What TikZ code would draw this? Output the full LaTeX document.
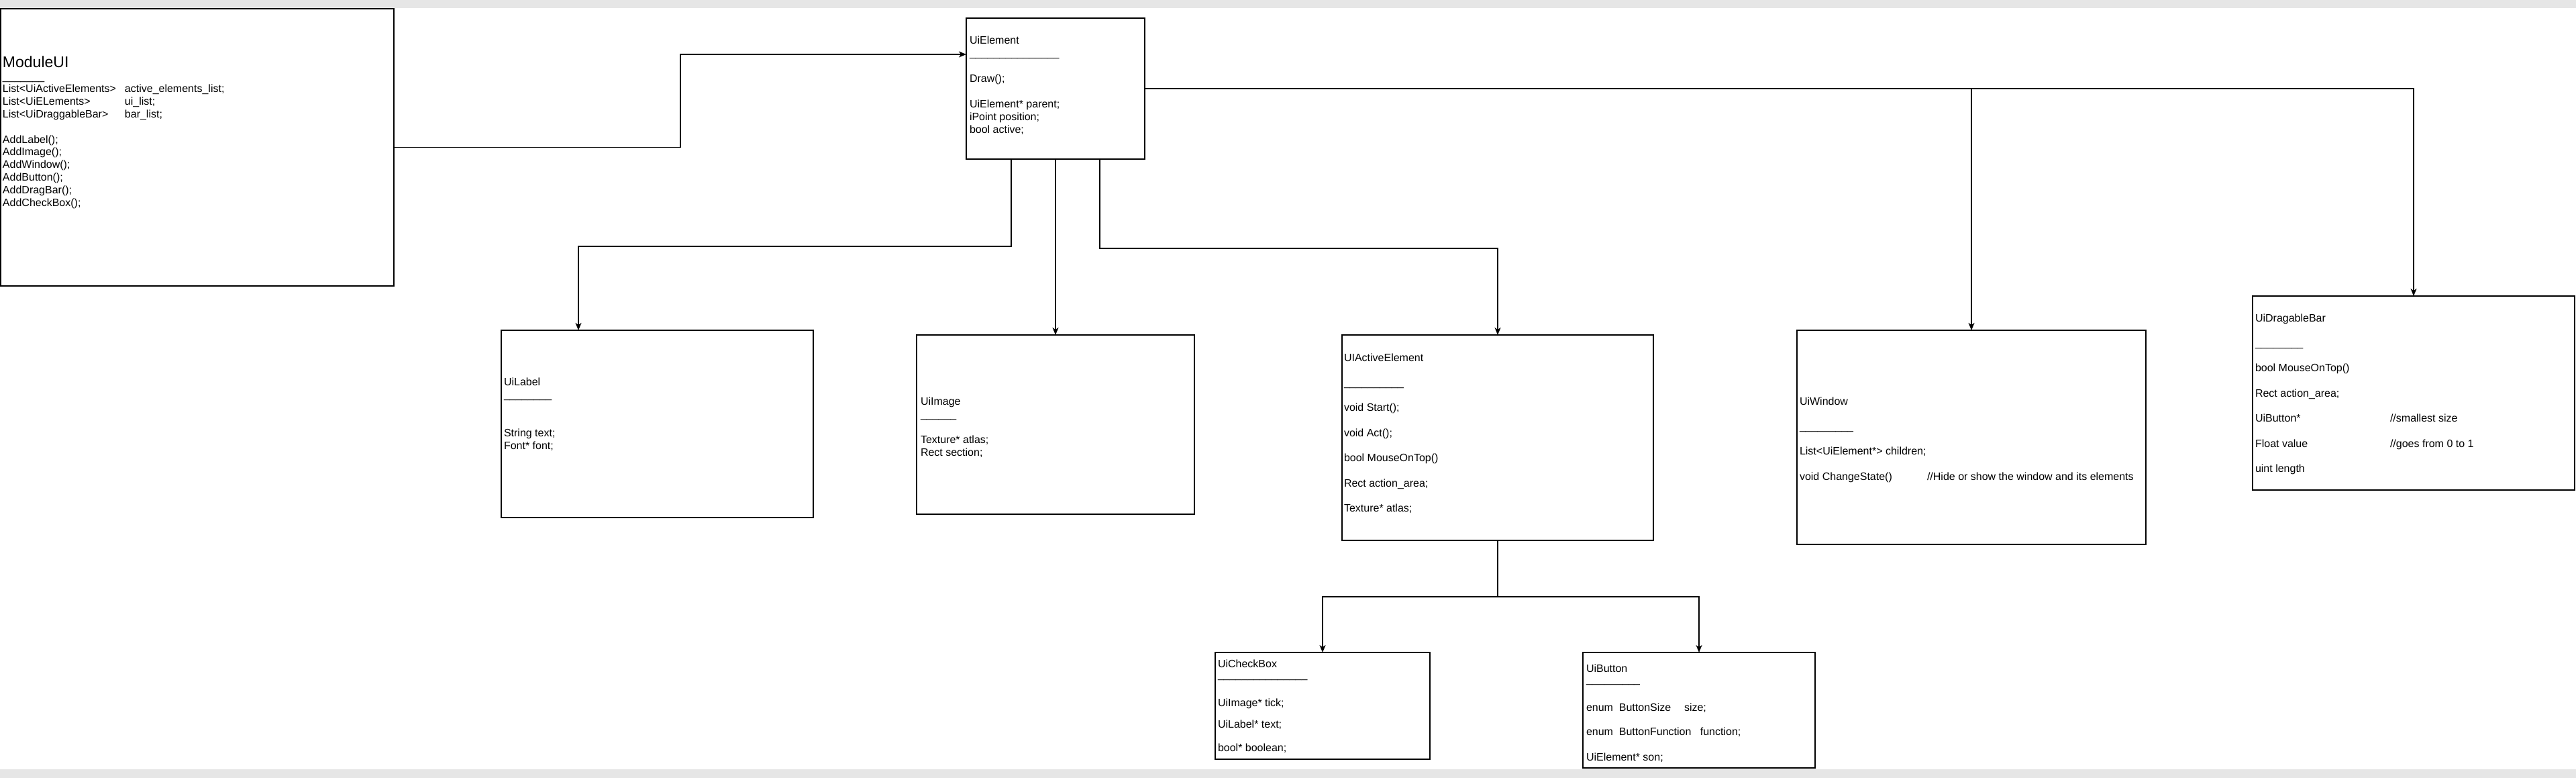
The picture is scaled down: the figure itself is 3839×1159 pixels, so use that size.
\documentclass[tikz,border=0pt]{standalone}
\usepackage{fontspec}
\setmainfont{Liberation Sans}
\usetikzlibrary{arrows.meta,calc}
\definecolor{bandgray}{HTML}{E6E6E6}
\begin{document}
\begin{tikzpicture}[x=1pt,y=-1pt,
  box/.style={draw=black, line width=2pt, inner sep=0pt, outer sep=0pt, fill=white},
  conn/.style={draw=black, line width=1.6pt, -{Stealth[length=11pt,width=9pt,inset=3pt]}},
  txt/.style={anchor=base west, inner sep=0pt, outer sep=0pt, font=\fontsize{16}{19}\selectfont},
]
\fill[white] (0,0) rectangle (3839,1159);
\fill[bandgray] (0,0) rectangle (3839,12);
\fill[bandgray] (0,1146) rectangle (3839,1159);
\useasboundingbox (0,0) rectangle (3839,1159);

% boxes
\node[box, minimum width=586pt, minimum height=413pt] (mod) at (294,219.5) {};
\node[box, minimum width=266pt, minimum height=210pt] (elem) at (1573,132) {};
\node[box, minimum width=465pt, minimum height=279pt] (label) at (979.5,631.5) {};
\node[box, minimum width=414pt, minimum height=267pt] (image) at (1573,632.5) {};
\node[box, minimum width=464pt, minimum height=306pt] (active) at (2232,652) {};
\node[box, minimum width=520pt, minimum height=319pt] (window) at (2938,651.5) {};
\node[box, minimum width=480pt, minimum height=289pt] (bar) at (3597,585.5) {};
\node[box, minimum width=320pt, minimum height=159pt] (check) at (1971,1051.5) {};
\node[box, minimum width=346pt, minimum height=172pt] (button) at (2532,1058) {};

% texts
\node[txt, font=\fontsize{23}{27}\selectfont] (modtitle) at (4,100) {ModuleUI};
\node[txt, font=\fontsize{16}{18.8}\selectfont] (modbody) at (4,119) {\begin{tabular}[t]{@{}l@{}}
\_\_\_\_\_\_\_\\
\makebox[182pt][l]{List<UiActiveElements>}active\_elements\_list;\\
\makebox[182pt][l]{List<UiELements>}ui\_list;\\
\makebox[182pt][l]{List<UiDraggableBar>}bar\_list;\\
\\
AddLabel();\\
AddImage();\\
AddWindow();\\
AddButton();\\
AddDragBar();\\
AddCheckBox();
\end{tabular}};

\node[txt] (elemtext) at (1445,65) {\begin{tabular}[t]{@{}l@{}}
UiElement\\
\_\_\_\_\_\_\_\_\_\_\_\_\_\_\_\\
\\
Draw();\\
\\
UiElement* parent;\\
iPoint position;\\
bool active;
\end{tabular}};

\node[txt] (labeltext) at (751,574) {\begin{tabular}[t]{@{}l@{}}
UiLabel\\
\_\_\_\_\_\_\_\_\\
\\
\\
String text;\\
Font* font;
\end{tabular}};

\node[txt] (imagetext) at (1372,603) {\begin{tabular}[t]{@{}l@{}}
UiImage\\
\_\_\_\_\_\_\\
\\
Texture* atlas;\\
Rect section;
\end{tabular}};

\node[txt, font=\fontsize{16}{18.7}\selectfont] (activetext) at (2003,538) {\begin{tabular}[t]{@{}l@{}}
UIActiveElement\\
\\
\_\_\_\_\_\_\_\_\_\_\\
\\
void Start();\\
\\
void Act();\\
\\
bool MouseOnTop()\\
\\
Rect action\_area;\\
\\
Texture* atlas;
\end{tabular}};

\node[txt, font=\fontsize{16}{18.7}\selectfont] (windowtext) at (2682,603) {\begin{tabular}[t]{@{}l@{}}
UiWindow\\
\\
\_\_\_\_\_\_\_\_\_\\
\\
List<UiElement*> children;\\
\\
\makebox[190pt][l]{void ChangeState()}//Hide or show the window and its elements
\end{tabular}};

\node[txt, font=\fontsize{16}{18.7}\selectfont] (bartext) at (3361,479) {\begin{tabular}[t]{@{}l@{}}
UiDragableBar\\
\\
\_\_\_\_\_\_\_\_\\
\\
bool MouseOnTop()\\
\\
Rect action\_area;\\
\\
\makebox[201pt][l]{UiButton*}//smallest size\\
\\
\makebox[201pt][l]{Float value}//goes from 0 to 1\\
\\
uint length
\end{tabular}};

\node[txt, font=\fontsize{16}{16}\selectfont] (checktext) at (1815,994) {\begin{tabular}[t]{@{}l@{}}
UiCheckBox\\
\_\_\_\_\_\_\_\_\_\_\_\_\_\_\_\\[26pt]
UiImage* tick;\\[16pt]
UiLabel* text;\\[18pt]
bool* boolean;
\end{tabular}};

\node[txt, font=\fontsize{16}{16}\selectfont] (buttontext) at (2364,1001) {\begin{tabular}[t]{@{}l@{}}
UiButton\\
\_\_\_\_\_\_\_\_\_\\[26pt]
\makebox[146pt][l]{enum\ \ ButtonSize}size;\\[20pt]
enum\ \ ButtonFunction\ \ \ function;\\[21pt]
UiElement* son;
\end{tabular}};

% connectors
\draw[conn] (mod.east) -- ++(427,0) |- ($(elem.north west)+(0,54)$);
\draw[conn] ($(elem.south)+(-66,0)$) -- ++(0,130) -| ($(label.north west)+(115,0)$);
\draw[conn] (elem.south) -- (image.north);
\draw[conn] ($(elem.south)+(66,0)$) -- ++(0,133) -| (active.north);
\draw[conn] (elem.east) -| (window.north);
\draw[conn] (elem.east) -| (bar.north);
\draw[conn] (active.south) -- ++(0,84) -| (check.north);
\draw[conn] (active.south) -- ++(0,84) -| (button.north);
\end{tikzpicture}
\end{document}
